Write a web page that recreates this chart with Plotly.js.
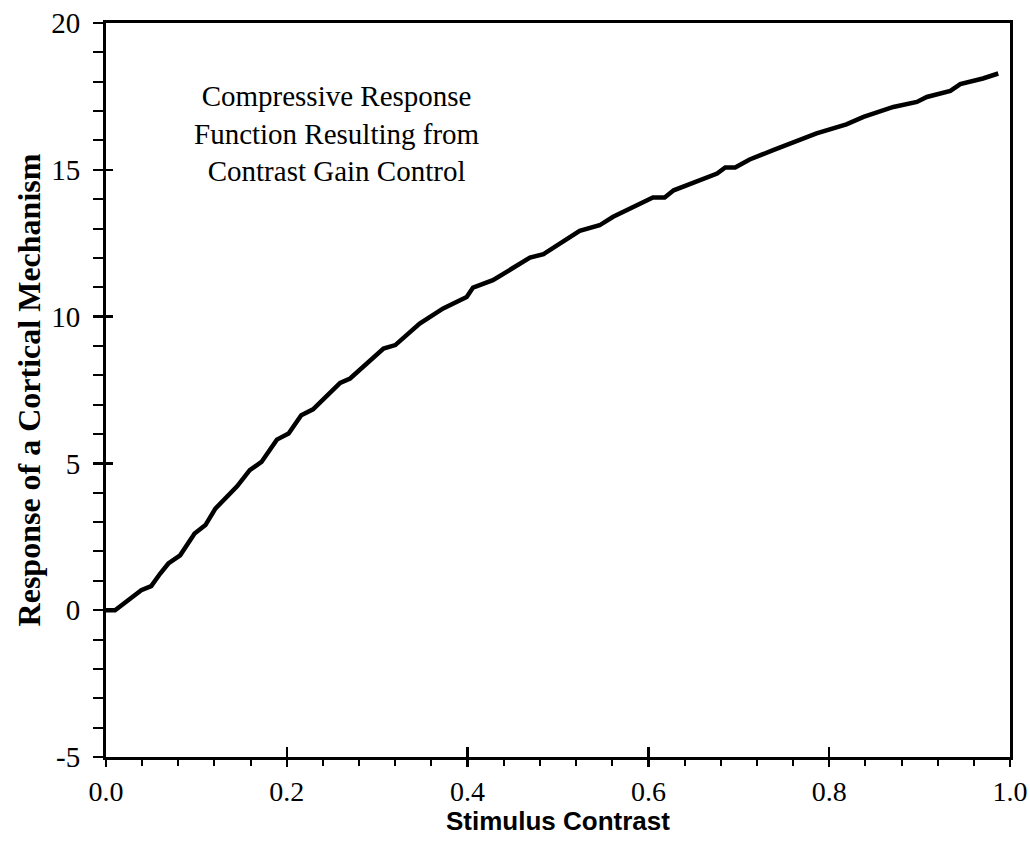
<!DOCTYPE html>
<html>
<head>
<meta charset="utf-8">
<script src="https://cdn.plot.ly/plotly-3.0.1.min.js"></script>
<style>html,body{margin:0;padding:0;background:#fff;}#chart{width:1030px;height:846px;}</style>
</head>
<body>
<div id="chart"></div>
<script>
const contrast = [0.000, 0.010, 0.039, 0.050, 0.060, 0.069, 0.082, 0.098, 0.110, 0.121, 0.145, 0.159, 0.172, 0.189, 0.202, 0.216, 0.229, 0.259, 0.270, 0.307, 0.320, 0.347, 0.373, 0.399, 0.406, 0.428, 0.469, 0.484, 0.524, 0.546, 0.561, 0.605, 0.618, 0.628, 0.676, 0.685, 0.696, 0.712, 0.738, 0.764, 0.786, 0.819, 0.838, 0.871, 0.897, 0.908, 0.934, 0.945, 0.970, 0.987];
const response = [0.00, 0.00, 0.68, 0.82, 1.25, 1.59, 1.87, 2.61, 2.90, 3.46, 4.22, 4.77, 5.05, 5.81, 6.02, 6.64, 6.84, 7.74, 7.89, 8.91, 9.03, 9.76, 10.28, 10.67, 10.99, 11.24, 12.01, 12.13, 12.92, 13.11, 13.40, 14.06, 14.06, 14.30, 14.87, 15.08, 15.08, 15.35, 15.67, 15.98, 16.24, 16.55, 16.80, 17.14, 17.31, 17.48, 17.69, 17.92, 18.11, 18.28];
const xTickVals = [0, 0.2, 0.4, 0.6, 0.8, 1.0];
const xTickText = ['0.0', '0.2', '0.4', '0.6', '0.8', '1.0'];
const yTickVals = [-5, 0, 5, 10, 15, 20];
const yTickText = ['-5', '0', '5', '10', '15', '20'];
const noteText = 'Compressive Response<br>Function Resulting from<br>Contrast Gain Control';
const xTitle = 'Stimulus Contrast';
const yTitle = 'Response of a Cortical Mechanism';

const serif = 'Liberation Serif, Times New Roman, serif';

const traces = [
  {x: contrast, y: response, type: 'scatter', mode: 'lines',
   line: {color: '#000', width: 4.5}, hoverinfo: 'skip', showlegend: false},
  {x: [], y: [], xaxis: 'x2', yaxis: 'y2', type: 'scatter', mode: 'lines', showlegend: false}
];

const layout = {
  width: 1030, height: 846,
  margin: {l: 106, r: 20, t: 23, b: 89},
  paper_bgcolor: '#fff', plot_bgcolor: '#fff',
  showlegend: false,
  font: {family: serif, color: '#000', size: 28},
  xaxis: {
    range: [0, 1], tickvals: xTickVals, ticktext: xTickText,
    ticks: 'outside', ticklen: 7, tickwidth: 2.5, tickcolor: '#000',
    minor: {dtick: 0.04, tick0: 0, ticks: 'outside', ticklen: 6, tickwidth: 2, tickcolor: '#000'},
    showline: true, linecolor: '#000', linewidth: 3, mirror: true,
    showgrid: false, zeroline: false,
    tickfont: {family: serif, size: 28, color: '#000'},
    ticklabelstandoff: 0
  },
  yaxis: {
    range: [-5, 20], tickvals: yTickVals, ticktext: yTickText,
    ticks: 'outside', ticklen: 10, tickwidth: 2.5, tickcolor: '#000',
    minor: {dtick: 1, tick0: 0, ticks: 'outside', ticklen: 10, tickwidth: 2, tickcolor: '#000'},
    showline: true, linecolor: '#000', linewidth: 3, mirror: true,
    showgrid: false, zeroline: false,
    tickfont: {family: serif, size: 29, color: '#000'},
    ticklabelstandoff: 7,
    title: {text: yTitle, font: {family: serif, size: 32, color: '#000', weight: 'bold'}, standoff: 2}
  },
  xaxis2: {
    overlaying: 'x', anchor: 'y', side: 'bottom', range: [0, 1],
    tickvals: xTickVals, showticklabels: false,
    ticks: 'inside', ticklen: 10, tickwidth: 2.5, tickcolor: '#000',
    showline: false, showgrid: false, zeroline: false
  },
  yaxis2: {
    overlaying: 'y', anchor: 'x', side: 'left', range: [-5, 20],
    tickvals: yTickVals, showticklabels: false,
    ticks: 'inside', ticklen: 7, tickwidth: 2.5, tickcolor: '#000',
    showline: false, showgrid: false, zeroline: false
  },
  annotations: [{
    xref: 'paper', yref: 'paper', x: 0.2555, y: 0.850,
    xanchor: 'center', yanchor: 'middle', showarrow: false,
    text: noteText, align: 'center',
    font: {family: serif, size: 29, color: '#000'}
  }, {
    xref: 'paper', yref: 'paper', x: 0.5, y: -0.087,
    xanchor: 'center', yanchor: 'middle', showarrow: false,
    text: xTitle,
    font: {family: 'Liberation Sans, Arial, sans-serif', size: 26, color: '#000', weight: 'bold'}
  }]
};

Plotly.newPlot('chart', traces, layout, {staticPlot: true, displayModeBar: false});
</script>
</body>
</html>
